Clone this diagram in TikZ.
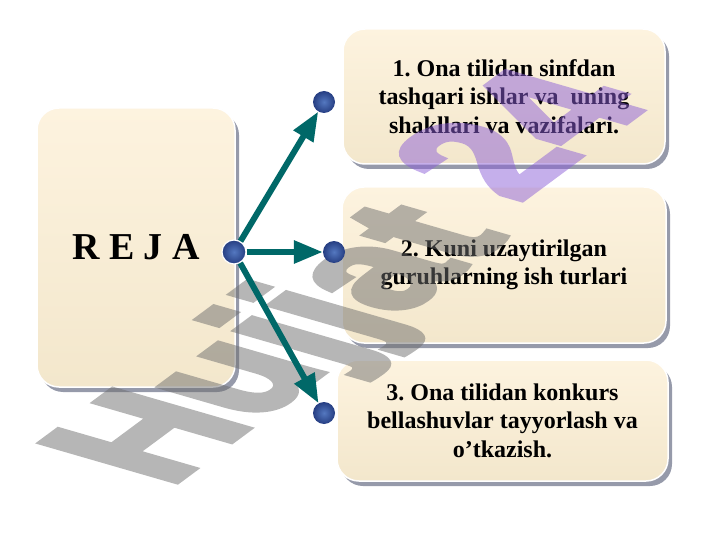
\documentclass[tikz,border=0pt]{standalone}
\usepackage{fontspec}
\setmainfont{Liberation Serif}
\newfontfamily\wmfont[FakeBold=4]{Liberation Sans}
\usetikzlibrary{arrows.meta,shadings,shadows}
\definecolor{teal1}{RGB}{0,104,104}
\definecolor{cream1}{RGB}{253,243,223}
\definecolor{cream2}{RGB}{243,231,204}
\definecolor{shad}{RGB}{150,154,170}
\definecolor{dotin}{RGB}{84,120,192}
\definecolor{dotout}{RGB}{38,62,130}
\definecolor{wmgray}{RGB}{110,110,110}
\definecolor{wmpurple}{RGB}{140,95,215}
\begin{document}
\frenchspacing
\begin{tikzpicture}[x=1pt,y=-1pt,
  card/.style={rectangle, rounded corners=22pt, top color=cream1, bottom color=cream2,
    draw=white, line width=1.5pt, inner sep=0pt, align=center,
    drop shadow={shadow xshift=4pt, shadow yshift=-5pt, fill=shad, opacity=1}},
  txt/.style={font=\bfseries\fontsize{24}{28.5}\selectfont},
  dot/.style={circle, minimum size=22pt, inner sep=0pt, shading=radial,
    inner color=dotin, outer color=dotout},
  arr/.style={draw=teal1, line width=6pt, -{Triangle[length=29pt,width=22pt]}}
]
\useasboundingbox (0,0) rectangle (720,540);

% cards
\node[card, minimum width=198pt, minimum height=279pt,
  font=\bfseries\fontsize{38}{40}\selectfont] (reja) at (136,247.5) {R E J A};
\node[card, txt, minimum width=322pt, minimum height=135pt] (b1) at (504,96.5)
  {1. Ona tilidan sinfdan\\tashqari ishlar va\ \ uning\\shakllari va vazifalari.};
\node[card, txt, minimum width=324pt, minimum height=156pt] (b2) at (504,265)
  {2. Kuni uzaytirilgan\\guruhlarning ish turlari};
\node[card, txt, minimum width=331pt, minimum height=121pt] (b3) at (502.5,420.5)
  {3. Ona tilidan konkurs\\bellashuvlar tayyorlash va\\o’tkazish.};

% watermark
\begin{scope}[transparency group, opacity=0.5]
\begin{scope}[shift={(168,488)}, xscale=2.16, rotate=58]
  \node[anchor=base west, inner sep=0pt, transform shape,
    font=\wmfont\bfseries\fontsize{107}{107}\selectfont, text=wmgray] (wm) at (0,0)
    {Hujjat\kern30pt\raisebox{14pt}{\textcolor{wmpurple}{24}}};
\end{scope}
\end{scope}

% dots
\node[dot, minimum size=24pt, draw=white, line width=1.2pt] (c) at (234,252) {};
\node[dot] (d1) at (324,102) {};
\node[dot] (d2) at (334,252) {};
\node[dot] (d3) at (324,413) {};

% arrows
\draw[arr] (c) -- (d1);
\draw[arr] (c) -- (d2);
\draw[arr] (c) -- (d3);
\end{tikzpicture}
\end{document}
